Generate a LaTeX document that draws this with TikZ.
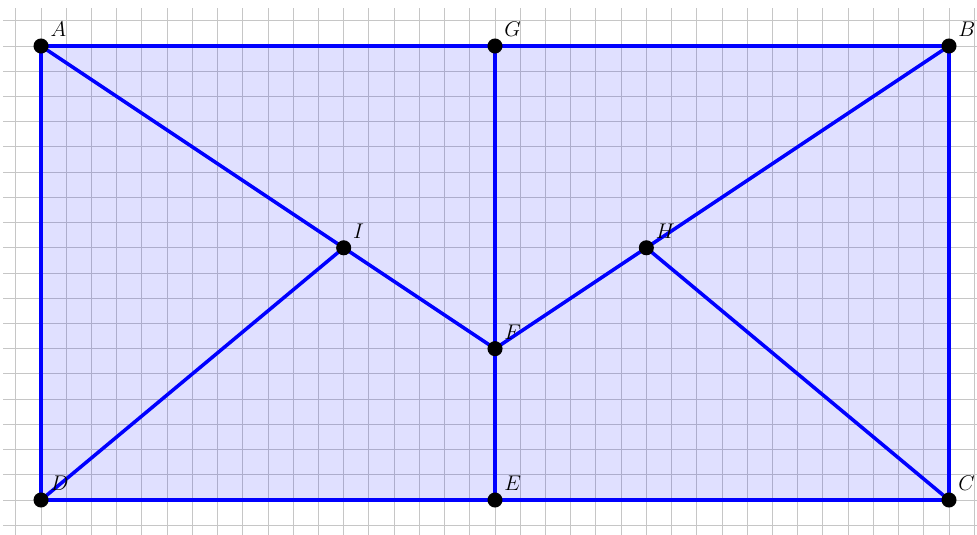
\documentclass[tikz,border=0pt]{standalone}
\begin{document}
\begin{tikzpicture}[x=0.5cm,y=0.5cm,
  gridline/.style={draw=gray!45,line width=0.5pt},
  edge/.style={draw=blue,line width=2pt},
  region/.style={fill=blue,fill opacity=0.12},
  dot/.style={circle,fill=black,inner sep=0pt,minimum size=8.5pt},
  every label/.style={font=\large,inner sep=2pt}]
\useasboundingbox (-1.627,-1.349) rectangle (37.111,19.825);
\clip (-1.627,-1.349) rectangle (37.111,19.825);
\draw[gridline,step=0.5cm] (-1.5,-1.5) grid (37.5,19.5);
\coordinate (A) at (0,18);
\coordinate (B) at (36,18);
\coordinate (C) at (36,0);
\coordinate (D) at (0,0);
\coordinate (E) at (18,0);
\coordinate (F) at (18,6);
\coordinate (G) at (18,18);
\coordinate (H) at (24,10);
\coordinate (I) at (12,10);
\fill[region] (A) -- (B) -- (C) -- (D) -- cycle;
\draw[edge] (A) -- (B) -- (C) -- (D) -- cycle;
\draw[edge] (G) -- (E);
\draw[edge] (A) -- (I) -- (F) -- (H) -- (B);
\draw[edge] (D) -- (I);
\draw[edge] (H) -- (C);
\foreach \p in {A,B,C,D,E,F,G,H,I}
  \node[dot,label=above right:$\p$] at (\p) {};
\end{tikzpicture}
\end{document}
